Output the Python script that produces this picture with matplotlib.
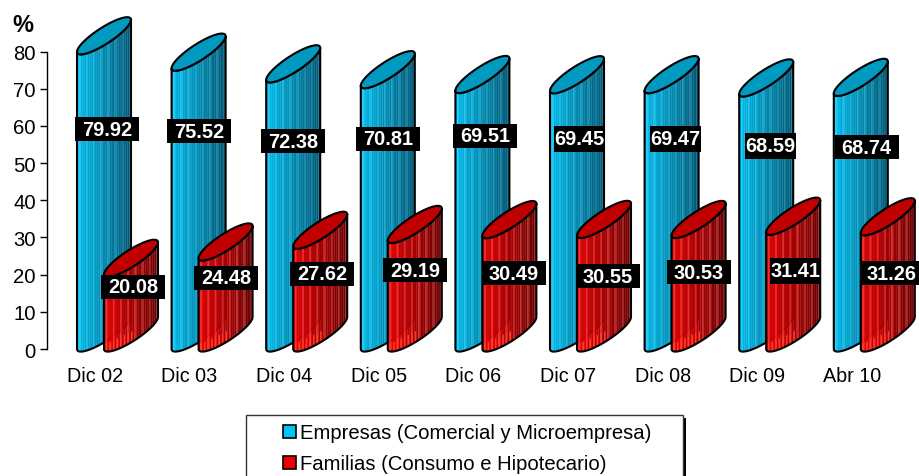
import numpy as np
import matplotlib
matplotlib.use('Agg')
import matplotlib.pyplot as plt
from matplotlib.patches import Polygon, Rectangle

plt.rcParams['font.family'] = ['Liberation Sans', 'DejaVu Sans']

categories = ['Dic 02', 'Dic 03', 'Dic 04', 'Dic 05', 'Dic 06', 'Dic 07', 'Dic 08', 'Dic 09', 'Abr 10']
empresas = [79.92, 75.52, 72.38, 70.81, 69.51, 69.45, 69.47, 68.59, 68.74]
familias = [20.08, 24.48, 27.62, 29.19, 30.49, 30.55, 30.53, 31.41, 31.26]
y_ticks = [0, 10, 20, 30, 40, 50, 60, 70, 80]

# where the value boxes sit, x offset in pixels from the tick, y in axis units
emp_label_dx = [12, 9.4, 9, 9, 11.6, 11.5, 13, 13.3, 15]
emp_label_y = [59.1, 58.6, 55.9, 56.5, 57.3, 56.5, 56.5, 54.7, 54.3]
emp_box_w = [64, 64, 64, 64, 64, 51, 51, 51, 64]
emp_box_h = [24, 24, 24, 24, 24, 26, 26, 26, 24]
fam_label_dx = [38, 36.4, 38, 36, 40.6, 40, 36.4, 38.3, 40]
fam_label_y = [16.7, 19.1, 20.2, 21.2, 20.4, 19.6, 20.7, 21.0, 20.4]
fam_box_w = [64, 64, 64, 64, 64, 64, 64, 51, 64]
fam_box_h = [24, 24, 24, 24, 24, 24, 24, 26, 24]

W, H = 920, 477
AX_LEFT, AX_RIGHT, AX_TOP, AX_BOTTOM = 47, 920, 52.5, 350
STEP = 94.6
FIRST_TICK = 95
px_y = (AX_BOTTOM - AX_TOP) / 80.0

BAR_W = 54 / STEP
SKEW = 32 / px_y
BULGE = 9.5 / px_y


def stripe_colors(dark, light, n, hilite):
    # left to right shade, with a thin lighter stripe every so often
    dark = np.array(matplotlib.colors.to_rgb(dark))
    light = np.array(matplotlib.colors.to_rgb(light))
    out = []
    for k in range(n):
        f = k / (n - 1)
        c = light * (1 - f) + dark * f
        if k % 4 == 1:
            c = np.minimum(c + hilite, 1)
        out.append(c)
    return out


def cylinder(ax, x0, value, light, dark, top_col, hilite, glow=None):
    t = np.linspace(0, np.pi, 40)
    cx = x0 + BAR_W / 2
    xs = cx - BAR_W / 2 * np.cos(t)
    lower = SKEW / 2 - SKEW / 2 * np.cos(t) - BULGE * np.sin(t)
    top_low = value + lower
    bot_low = lower

    n = 30
    edges = np.linspace(x0, x0 + BAR_W, n + 1)
    cols = stripe_colors(dark, light, n, hilite)
    for k in range(n):
        xx = np.linspace(edges[k], edges[k + 1], 4)
        lo = np.interp(xx, xs, bot_low)
        hi = np.interp(xx, xs, top_low)
        pts = np.r_[np.c_[xx, lo], np.c_[xx[::-1], hi[::-1]]]
        ax.add_patch(Polygon(pts, closed=True, fc=cols[k], ec=cols[k], lw=0.2, clip_on=False))
        # brighter wedge low on the left of the red ones
        if glow is not None and k < n * 0.55 and k % 2 == 1:
            frac = (xx - x0) / BAR_W
            hi2 = np.minimum(hi, SKEW * 0.85 * frac + 1.0)
            pts = np.r_[np.c_[xx, lo], np.c_[xx[::-1], hi2[::-1]]]
            ax.add_patch(Polygon(pts, closed=True, fc=glow, ec='none', clip_on=False))

    # outline of the body
    body = np.r_[np.c_[xs, bot_low], np.c_[xs[::-1], top_low[::-1]]]
    ax.add_patch(Polygon(body, closed=True, fc='none', ec='black', lw=1.5, clip_on=False, joinstyle='round'))

    # top ellipse
    tt = np.linspace(0, 2 * np.pi, 80)
    ex = cx - BAR_W / 2 * np.cos(tt)
    ey = value + SKEW / 2 - SKEW / 2 * np.cos(tt) - BULGE * np.sin(tt)
    ax.add_patch(Polygon(np.c_[ex, ey], closed=True, fc=top_col, ec='black', lw=1.5, clip_on=False))


def value_box(ax, x, y, value, box_w, box_h):
    w = box_w / STEP
    h = box_h / px_y
    ax.add_patch(Rectangle((x - w / 2, y - h / 2), w, h, fc='black', ec='none', zorder=9, clip_on=False))
    ax.text(x, y, '%.2f' % value, color='white', weight='bold', fontsize=14.4,
            ha='center', va='center', zorder=10)


fig = plt.figure(figsize=(W / 100, H / 100), dpi=100)
ax = fig.add_axes([AX_LEFT / W, 1 - AX_BOTTOM / H, (AX_RIGHT - AX_LEFT) / W, (AX_BOTTOM - AX_TOP) / H])
ax.set_ylim(0, 80)
ax.set_xlim((AX_LEFT - FIRST_TICK) / STEP, (AX_RIGHT - FIRST_TICK) / STEP)

for i in range(len(categories)):
    cylinder(ax, i - 18 / STEP, empresas[i], '#00b8e8', '#005a78', '#0099c0', 0.09)
for i in range(len(categories)):
    cylinder(ax, i + 9 / STEP, familias[i], '#e60000', '#6e0000', '#c00000', 0.16, glow='#ff3a2a')

for i in range(len(categories)):
    value_box(ax, i + emp_label_dx[i] / STEP, emp_label_y[i], empresas[i], emp_box_w[i], emp_box_h[i])
    value_box(ax, i + fam_label_dx[i] / STEP, fam_label_y[i], familias[i], fam_box_w[i], fam_box_h[i])

for s in ['top', 'right', 'bottom']:
    ax.spines[s].set_visible(False)
ax.spines['left'].set_linewidth(1.0)
ax.set_yticks(y_ticks)
ax.tick_params(axis='y', labelsize=14.6, length=5, width=1, pad=3)
ax.set_xticks(range(len(categories)))
ax.set_xticklabels(categories)
ax.tick_params(axis='x', labelsize=14.2, length=0, pad=12)

fig.text(12 / W, 1 - 25 / H, '%', fontsize=17, weight='bold', va='center')

# legend box runs off the bottom of the picture
fig.add_artist(Rectangle((683 / W, 0), 3.5 / W, 1 - 419 / H, transform=fig.transFigure, fc='black', ec='none'))
fig.add_artist(Rectangle((246 / W, -0.02), 437 / W, 1 - 416 / H + 0.02, transform=fig.transFigure,
                         fc='white', ec='#333333', lw=1))
h1 = Rectangle((0, 0), 1, 1, fc='#00c4f8', ec='black', lw=1.2)
h2 = Rectangle((0, 0), 1, 1, fc='#ee0000', ec='black', lw=1.2)
leg = fig.legend([h1, h2], ['Empresas (Comercial y Microempresa)', 'Familias (Consumo e Hipotecario)'],
                 loc='upper left', bbox_to_anchor=(267 / W, 1 - 408 / H), frameon=False, fontsize=14.6,
                 handlelength=0.62, handleheight=0.62, handletextpad=0.2, labelspacing=0.6, borderpad=0.3)
leg.set_zorder(20)

fig.savefig('out.png', dpi=100)
